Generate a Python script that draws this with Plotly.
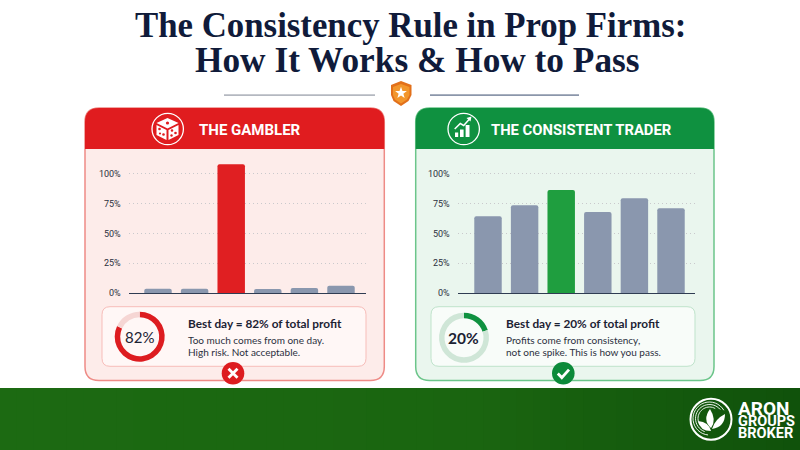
import math
import plotly.graph_objects as go

W, H = 800, 450

# ---- chart data ----
days = ["Day 1", "Day 2", "Day 3", "Day 4", "Day 5", "Day 6"]
gambler_values = [3.6, 3.6, 108, 3.4, 4.2, 6]
consistent_values = [64.4, 73.6, 86.4, 67.8, 79.4, 71]
tick_values = [0, 25, 50, 75, 100]
tick_labels = ["0%", "25%", "50%", "75%", "100%"]
gambler_share = [82, 18]
consistent_share = [20, 80]

# ---- palette ----
RED, RED_BODY, RED_EDGE = "#e01c1f", "#fdecea", "#ee8b86"
GREEN, GREEN_BODY, GREEN_EDGE = "#0f9140", "#eaf6ee", "#6cc58a"
GREEN_BAR = "#1f9e3f"
SLATE = "#8a97ae"
NAVY = "#101b3a"
INK = "#1c2233"
BODY_FONT = "Lato"
TITLE_FONT = "Liberation Serif"
BRAND_FONT = "Liberation Sans Narrow, Roboto"


def px(x):
    return x / W


def py(y):
    return 1 - y / H


def pt(x, y):
    return f"{px(x):.5f},{py(y):.5f}"


def poly(points, close=True):
    d = "M" + " L".join(pt(x, y) for x, y in points)
    return d + (" Z" if close else "")


def round_rect(x0, y0, x1, y1, r, top=True, bottom=True):
    rt = r if top else 0
    rb = r if bottom else 0
    return (
        f"M{pt(x0 + rt, y0)} L{pt(x1 - rt, y0)} Q{pt(x1, y0)} {pt(x1, y0 + rt)} "
        f"L{pt(x1, y1 - rb)} Q{pt(x1, y1)} {pt(x1 - rb, y1)} "
        f"L{pt(x0 + rb, y1)} Q{pt(x0, y1)} {pt(x0, y1 - rb)} "
        f"L{pt(x0, y0 + rt)} Q{pt(x0, y0)} {pt(x0 + rt, y0)} Z"
    )


def path(d, fill="rgba(0,0,0,0)", line=None, width=0):
    return dict(
        type="path", xref="paper", yref="paper", path=d, fillcolor=fill, layer="above",
        line=dict(color=line or "rgba(0,0,0,0)", width=width),
    )


def under(shape):
    shape["layer"] = "below"
    return shape


def circle(cx, cy, r, fill="rgba(0,0,0,0)", line=None, width=0):
    return dict(
        type="circle", xref="paper", yref="paper", layer="above",
        x0=px(cx - r), x1=px(cx + r), y0=py(cy + r), y1=py(cy - r), fillcolor=fill,
        line=dict(color=line or "rgba(0,0,0,0)", width=width),
    )


def rect(x0, y0, x1, y1, fill):
    return dict(
        type="rect", xref="paper", yref="paper", layer="below",
        x0=px(x0), x1=px(x1), y0=py(y1), y1=py(y0), fillcolor=fill, line=dict(width=0),
    )


def arc(cx, cy, r, start, stop, steps=24):
    return [
        (cx + r * math.cos(math.radians(start + (stop - start) * i / steps)),
         cy + r * math.sin(math.radians(start + (stop - start) * i / steps)))
        for i in range(steps + 1)
    ]


def text(x, y, s, size, color=INK, family=BODY_FONT, anchor="left", bold=False):
    # annotations carry about 2.5px of inner padding on their anchored side
    nudge = -2.5 if anchor == "left" else 0
    return dict(
        x=px(x + nudge), y=py(y), xref="paper", yref="paper", showarrow=False,
        text=f"<b>{s}</b>" if bold else s,
        xanchor=anchor, yanchor="middle", font=dict(size=size, color=color, family=family),
    )


shapes = []

# footer band: steady green that darkens over the right-hand third
BANDS = 48
LEFT_GREEN, MID_GREEN, RIGHT_GREEN = (0x1c, 0x6a, 0x12), (0x1a, 0x65, 0x10), (0x10, 0x52, 0x0b)
for i in range(BANDS):
    t = i / (BANDS - 1)
    a, b, f = (LEFT_GREEN, MID_GREEN, t / 0.6) if t < 0.6 else (MID_GREEN, RIGHT_GREEN, (t - 0.6) / 0.4)
    c = tuple(round(a[k] + (b[k] - a[k]) * f) for k in range(3))
    shapes.append(rect(W * i / BANDS, 388, W * (i + 1) / BANDS + 1, H, f"rgb{c}"))

# rules and shield under the title
shapes.append(rect(224, 94.2, 375, 96, "#b4b8c0"))
shapes.append(rect(430, 94.2, 579, 96, "#8b96aa"))
shield = [(401, 81), (411.5, 85), (411.5, 95), (408.5, 101), (401, 106), (393.5, 101), (391, 95), (391, 85)]
shapes.append(path(poly(shield), "#e2701a"))
inner = [(401, 84), (409.5, 87), (409.5, 95), (407, 99.5), (401, 103.5), (395, 99.5), (393, 95), (393, 87)]
shapes.append(path(poly(inner), "#f2962c"))
star = [
    (401 + (6.2 if i % 2 == 0 else 2.5) * math.sin(math.radians(36 * i)),
     93 - (6.2 if i % 2 == 0 else 2.5) * math.cos(math.radians(36 * i)))
    for i in range(10)
]
shapes.append(path(poly(star), "#ffffff"))

# the two panels: body, header, result card
panels = [
    (85, 384.3, 102, 366, RED, RED_BODY, RED_EDGE, "#fff7f6", "#f7bdb9"),
    (415.7, 714, 431, 695, GREEN, GREEN_BODY, GREEN_EDGE, "#f8fcf9", "#bfe3cb"),
]
for x0, x1, cx0, cx1, head, body, edge, card, card_edge in panels:
    shapes.append(under(path(round_rect(x0, 108, x1, 380.5, 14), body, edge, 1.5)))
    shapes.append(under(path(round_rect(x0, 108, x1, 149, 14, bottom=False), head)))
    shapes.append(under(path(round_rect(cx0, 306.7, cx1, 366.3, 8), card, card_edge, 1)))

# dice emblem
shapes.append(circle(167.7, 129, 15.7, line="#ffffff", width=1.3))
shapes.append(path(poly([(167.5, 118), (178.5, 123), (167.5, 128.5), (156.5, 123)]), "#ffffff"))
shapes.append(path(poly([(156.5, 125), (166.5, 130), (166.5, 140), (156.5, 135)]), "#ffffff"))
shapes.append(path(poly([(178.5, 125), (168.5, 130), (168.5, 140), (178.5, 135)]), "#ffffff"))
for x, y, r in [(167.5, 123, 1.6), (159.5, 129, 1.3), (163.5, 134.5, 1.3), (160, 133.5, 1.1),
                (172, 130.5, 1.3), (175.5, 133, 1.3), (171.5, 135.5, 1.2)]:
    shapes.append(circle(x, y, r, RED))

# rising chart emblem
shapes.append(circle(463.7, 129, 15.7, line="#ffffff", width=1.3))
for x0, top, x1 in [(455, 132.5, 458.2), (460, 129.5, 463.6), (465.6, 125, 469.5)]:
    shapes.append(path(poly([(x0, top), (x1, top), (x1, 137), (x0, 137)]), "#ffffff"))
shapes.append(path(poly([(454.7, 129), (460.3, 123.5), (463.7, 125.5), (469.5, 119)], close=False),
                   line="#ffffff", width=1.5))
shapes.append(path(poly([(466.5, 118), (471.5, 116.5), (470.5, 121.5)]), "#ffffff"))

# verdict badges
shapes.append(circle(233, 373.3, 11.3, "#dd1c20"))
shapes.append(path(poly([(228.5, 368.8), (237.5, 377.8)], close=False), line="#ffffff", width=2.8))
shapes.append(path(poly([(237.5, 368.8), (228.5, 377.8)], close=False), line="#ffffff", width=2.8))
shapes.append(circle(563.3, 373.3, 11.3, "#0c8a3a"))
shapes.append(path(poly([(557.8, 373.5), (561.8, 377.6), (569, 369.6)], close=False), line="#ffffff", width=2.8))

# brand mark
shapes.append(circle(711, 419.3, 20.5, line="#ffffff", width=2))
for r, start, stop in [(16.5, 95, 330), (14, 110, 320), (11.5, 120, 300)]:
    shapes.append(path(poly(arc(709.5, 418.5, r, start, stop), close=False), line="#ffffff", width=0.9))
shapes.append(path(f"M{pt(711, 428)} Q{pt(702, 420)} {pt(710, 409)} Q{pt(717, 420)} {pt(711, 428)} Z", "#ffffff"))
shapes.append(path(f"M{pt(712, 429)} Q{pt(715, 419)} {pt(725, 414)} Q{pt(725, 427)} {pt(712, 429)} Z", "#ffffff"))
shapes.append(path(f"M{pt(711, 431)} Q{pt(700, 431)} {pt(698, 421)} Q{pt(709, 422)} {pt(711, 431)} Z", "#ffffff"))

fig = go.Figure()


def add_bars(values, accent, suffix):
    colors = [accent if v == max(values) else SLATE for v in values]
    fig.add_trace(go.Bar(
        x=days, y=values, marker=dict(color=colors, cornerradius=2, line=dict(width=0)),
        width=0.75, xaxis=f"x{suffix}", yaxis=f"y{suffix}", showlegend=False, hoverinfo="skip",
    ))


add_bars(gambler_values, "#e01f22", "")
add_bars(consistent_values, GREEN_BAR, "2")


def add_ring(values, cx, cy, accent, pale):
    fig.add_trace(go.Pie(
        values=values, sort=False, direction="clockwise", rotation=0, hole=0.78,
        marker=dict(colors=[accent, pale], line=dict(width=0)), textinfo="none", hoverinfo="skip",
        showlegend=False,
        domain=dict(x=[px(cx - 25), px(cx + 25)], y=[py(cy + 25), py(cy - 25)]),
    ))


add_ring(gambler_share, 139.7, 336.7, "#dd1c20", "#f6d6d4")
add_ring(consistent_share, 464, 337.7, "#0f9140", "#cfe6d7")

annotations = [
    text(410.5, 25, "The Consistency Rule in Prop Firms:", 34.8, NAVY, TITLE_FONT, "center", True),
    text(417.5, 61, "How It Works &amp; How to Pass", 35.3, NAVY, TITLE_FONT, "center", True),
    text(250, 129.5, "THE GAMBLER", 15, "#ffffff", "Roboto", "center", True),
    text(581, 129.5, "THE CONSISTENT TRADER", 14.8, "#ffffff", "Roboto", "center", True),
    text(139.7, 337, "82%", 15, INK, BODY_FONT, "center"),
    text(464, 338, "<b>20%</b>", 15.5, INK, BODY_FONT, "center"),
    text(188.5, 323.5, "Best day = 82% of total profit", 11.8, INK, bold=True),
    text(188.5, 339.5, "Too much comes from one day.", 10, "#2b3040"),
    text(188.5, 351.5, "High risk. Not acceptable.", 10, "#2b3040"),
    text(506, 323.5, "Best day = 20% of total profit", 11.8, INK, bold=True),
    text(506, 339.5, "Profits come from consistency,", 10, "#2b3040"),
    text(506, 351.5, "not one spike. This is how you pass.", 10, "#2b3040"),
    text(738, 408.3, "ARON", 19, "#ffffff", "Roboto", bold=True),
    text(738, 421.3, "GROUPS", 14.5, "#ffffff", BRAND_FONT, bold=True),
    text(738, 433.7, "BROKER", 14.5, "#ffffff", BRAND_FONT, bold=True),
]

PITCH = 36.6
UNIT = 1.193
TOP_VALUE = 112


def x_axis(left, right, first_center):
    return dict(
        domain=[px(left), px(right)], type="category", categoryorder="array", categoryarray=days,
        range=[-(first_center - left) / PITCH, 5 + (right - first_center - 5 * PITCH) / PITCH],
        showgrid=False, showticklabels=False, ticks="", zeroline=False,
        showline=True, linecolor="#2f3c52", linewidth=1.4, fixedrange=True,
    )


def y_axis(anchor):
    return dict(
        anchor=anchor, domain=[py(293), py(293 - TOP_VALUE * UNIT)], range=[0, TOP_VALUE],
        tickmode="array", tickvals=tick_values, ticktext=tick_labels,
        tickfont=dict(size=9, color="#2b3040", family="Roboto"),
        ticks="outside", ticklen=5.5, tickcolor="rgba(0,0,0,0)",
        showgrid=True, gridcolor="#c9c9cc", griddash="1px,3px", gridwidth=1,
        zeroline=False, showline=False, fixedrange=True,
    )


fig.update_layout(
    width=W, height=H, margin=dict(l=0, r=0, t=0, b=0, autoexpand=False), autosize=False,
    paper_bgcolor="#ffffff", plot_bgcolor="rgba(0,0,0,0)", barmode="overlay",
    shapes=shapes, annotations=annotations,
    xaxis=x_axis(129, 366, 158), yaxis=y_axis("x"),
    xaxis2=x_axis(458, 695, 488), yaxis2=y_axis("x2"),
)
fig.write_html("out.html", config=dict(displayModeBar=False))
